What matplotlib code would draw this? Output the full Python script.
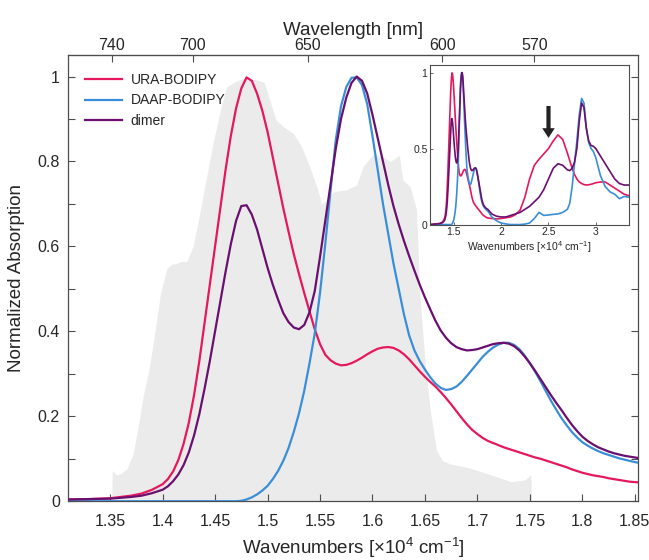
import matplotlib
matplotlib.use("Agg")
import matplotlib.pyplot as plt
import numpy as np

plt.rcParams['font.family'] = ['Liberation Sans', 'DejaVu Sans']
plt.rcParams['mathtext.fontset'] = 'custom'
plt.rcParams['mathtext.rm'] = 'Liberation Sans'
plt.rcParams['mathtext.it'] = 'Liberation Sans'
plt.rcParams['mathtext.sf'] = 'Liberation Sans'

# ---------------- data (wavenumber in 1e4 cm^-1, normalized absorption) -------------
# sampling positions (wavenumber) shared by the three spectra
wn_low = [1.25, 1.28, 1.31, 1.33, 1.35, 1.37, 1.38, 1.39]
wn_mid = list(np.round(np.arange(1.400, 1.8601, 0.005), 3))          # 93 positions
wn_high = [1.90, 1.95, 2.00, 2.05, 2.10, 2.15, 2.20, 2.25, 2.30, 2.35, 2.40, 2.45, 2.50,
           2.55, 2.60, 2.65, 2.70, 2.725, 2.75, 2.775, 2.80, 2.825, 2.85, 2.875, 2.90,
           2.925, 2.95, 2.975, 3.00, 3.05, 3.10, 3.15, 3.20, 3.25, 3.30, 3.35]
wavenumber = wn_low + wn_mid + wn_high

ura = [0.000, 0.002, 0.004, 0.005, 0.007, 0.013, 0.018, 0.027,
       # 1.400 - 1.500
       0.04, 0.052, 0.07, 0.097, 0.135, 0.185, 0.25, 0.33, 0.42, 0.51, 0.60,
       0.69, 0.78, 0.86, 0.925, 0.972, 0.998, 0.99, 0.96, 0.92, 0.87,
       # 1.505 - 1.600
       0.81, 0.75, 0.69, 0.635, 0.582, 0.535, 0.49, 0.447, 0.405, 0.37,
       0.345, 0.332, 0.324, 0.32, 0.321, 0.325, 0.331, 0.338, 0.346, 0.353,
       # 1.605 - 1.700
       0.359, 0.362, 0.363, 0.361, 0.355, 0.346, 0.334, 0.32, 0.306, 0.293,
       0.281, 0.27, 0.257, 0.243, 0.228, 0.212, 0.196, 0.181, 0.168, 0.158,
       # 1.705 - 1.800
       0.149, 0.142, 0.137, 0.132, 0.127, 0.123, 0.119, 0.115, 0.111, 0.107,
       0.103, 0.100, 0.096, 0.092, 0.088, 0.084, 0.080, 0.075, 0.071, 0.067,
       # 1.805 - 1.860
       0.064, 0.061, 0.059, 0.057, 0.054, 0.052, 0.050, 0.048, 0.046, 0.045, 0.044, 0.043,
       # 1.90 - 3.35
       0.04, 0.037, 0.04, 0.045, 0.05, 0.065, 0.095, 0.18, 0.30, 0.39, 0.43, 0.465, 0.50,
       0.55, 0.59, 0.56, 0.47, 0.42, 0.37, 0.33, 0.30, 0.28, 0.27, 0.263, 0.26,
       0.262, 0.265, 0.27, 0.275, 0.28, 0.28, 0.26, 0.24, 0.22, 0.20, 0.19]

daap = [0.0, 0.0, 0.0, 0.0, 0.0, 0.0, 0.0, 0.0,
        # 1.400 - 1.500
        0.0, 0.0, 0.0, 0.0, 0.0, 0.0, 0.0, 0.0, 0.0, 0.0, 0.0,
        0.0, 0.0, 0.0, 0.0, 0.001, 0.004, 0.009, 0.016, 0.025, 0.036,
        # 1.505 - 1.600
        0.052, 0.071, 0.095, 0.125, 0.163, 0.207, 0.26, 0.325, 0.395, 0.49,
        0.605, 0.73, 0.85, 0.93, 0.975, 0.997, 0.998, 0.98, 0.935, 0.86,
        # 1.605 - 1.700
        0.78, 0.70, 0.63, 0.56, 0.50, 0.44, 0.39, 0.355, 0.33, 0.31,
        0.292, 0.277, 0.267, 0.262, 0.264, 0.27, 0.281, 0.295, 0.31, 0.325,
        # 1.705 - 1.800
        0.34, 0.352, 0.362, 0.369, 0.373, 0.373, 0.368, 0.358, 0.343, 0.325,
        0.305, 0.283, 0.26, 0.237, 0.216, 0.196, 0.179, 0.163, 0.15, 0.139,
        # 1.805 - 1.860
        0.131, 0.124, 0.118, 0.113, 0.109, 0.105, 0.101, 0.098, 0.095, 0.092, 0.09, 0.088,
        # 1.90 - 3.35
        0.05, 0.025, 0.01, 0.004, 0.0, 0.0, 0.0, 0.003, 0.01, 0.04, 0.08, 0.06, 0.063,
        0.067, 0.07, 0.08, 0.10, 0.14, 0.25, 0.40, 0.55, 0.72, 0.83, 0.80, 0.64,
        0.54, 0.50, 0.48, 0.44, 0.32, 0.25, 0.215, 0.20, 0.17, 0.185, 0.18]

dimer = [0.000, 0.002, 0.004, 0.005, 0.006, 0.010, 0.013, 0.019,
         # 1.400 - 1.500
         0.027, 0.035, 0.047, 0.063, 0.085, 0.115, 0.155, 0.205, 0.265, 0.33, 0.40,
         0.47, 0.54, 0.605, 0.66, 0.695, 0.697, 0.675, 0.64, 0.595, 0.55,
         # 1.505 - 1.600
         0.51, 0.475, 0.443, 0.422, 0.409, 0.405, 0.415, 0.445, 0.495, 0.575,
         0.66, 0.745, 0.83, 0.90, 0.95, 0.985, 1.0, 0.99, 0.96, 0.91,
         # 1.605 - 1.700
         0.855, 0.80, 0.745, 0.695, 0.652, 0.613, 0.577, 0.543, 0.51, 0.48,
         0.452, 0.425, 0.402, 0.385, 0.372, 0.363, 0.358, 0.355, 0.356, 0.358,
         # 1.705 - 1.800
         0.362, 0.366, 0.37, 0.372, 0.373, 0.371, 0.365, 0.355, 0.341, 0.325,
         0.307, 0.288, 0.269, 0.25, 0.232, 0.215, 0.197, 0.18, 0.165, 0.152,
         # 1.805 - 1.860
         0.142, 0.134, 0.127, 0.122, 0.117, 0.113, 0.11, 0.107, 0.105, 0.103, 0.101, 0.099,
         # 1.90 - 3.35
         0.07, 0.055, 0.05, 0.05, 0.06, 0.07, 0.08, 0.10, 0.12, 0.15, 0.18, 0.23, 0.30,
         0.37, 0.40, 0.39, 0.36, 0.355, 0.37, 0.41, 0.50, 0.68, 0.80, 0.77, 0.63,
         0.55, 0.52, 0.515, 0.50, 0.45, 0.40, 0.35, 0.30, 0.27, 0.26, 0.26]

laser_x = [1.3515, 1.352, 1.356, 1.360, 1.366, 1.372, 1.377, 1.382, 1.387, 1.391, 1.398, 1.404,
           1.409, 1.4135, 1.418, 1.423, 1.429, 1.434, 1.439, 1.448, 1.455, 1.461, 1.4706, 1.48,
           1.493, 1.497, 1.502, 1.508, 1.515, 1.5245, 1.5325, 1.540, 1.547, 1.5516, 1.556, 1.563,
           1.575, 1.585, 1.591, 1.600, 1.610, 1.617, 1.623, 1.6255, 1.629, 1.636, 1.642, 1.645,
           1.650, 1.655, 1.661, 1.667, 1.674, 1.693, 1.713, 1.732, 1.745, 1.751, 1.7515]
laser_y = [0.0, 0.072, 0.062, 0.065, 0.076, 0.112, 0.18, 0.253, 0.31, 0.371, 0.489, 0.548,
           0.558, 0.56, 0.565, 0.564, 0.60, 0.66, 0.725, 0.843, 0.92, 0.976, 0.99, 0.997,
           0.99, 0.985, 0.945, 0.898, 0.882, 0.866, 0.835, 0.788, 0.74, 0.70, 0.709, 0.729,
           0.733, 0.745, 0.788, 0.815, 0.811, 0.80, 0.81, 0.815, 0.756, 0.74, 0.686, 0.489,
           0.332, 0.214, 0.12, 0.095, 0.088, 0.078, 0.062, 0.046, 0.05, 0.062, 0.0]

series_names = ['URA-BODIPY', 'DAAP-BODIPY', 'dimer']
colors = ['#e6185c', '#3a8ed8', '#6a0f70']

x_ticks = [1.35, 1.4, 1.45, 1.5, 1.55, 1.6, 1.65, 1.7, 1.75, 1.8, 1.85]
x_ticklabels = ['1.35', '1.4', '1.45', '1.5', '1.55', '1.6', '1.65', '1.7', '1.75', '1.8', '1.85']
y_ticks = [0, 0.1, 0.2, 0.3, 0.4, 0.5, 0.6, 0.7, 0.8, 0.9, 1.0]
y_ticklabels = ['0', '', '0.2', '', '0.4', '', '0.6', '', '0.8', '', '1']
wl_ticks = [740, 700, 650, 600, 570]
inset_xticks = [1.5, 2, 2.5, 3]
inset_xticklabels = ['1.5', '2', '2.5', '3']
inset_yticks = [0, 0.5, 1]
inset_yticklabels = ['0', '0.5', '1']

# ---------------- figure ---------------------------------------------------------------
fig = plt.figure(figsize=(6.49, 5.6), dpi=100)
ax = fig.add_axes([0.105, 0.105, 0.878, 0.797])

spine_col = '#4d4d4d'
txt_col = '#262626'

ax.fill_between(laser_x, laser_y, 0, color='#ebebeb', lw=0, zorder=1)
for ys, c, n in zip([ura, daap, dimer], colors, series_names):
    ax.plot(wavenumber, ys, color=c, lw=1.6, label=n, zorder=3)

ax.set_xlim(1.31, 1.853)
ax.set_ylim(0, 1.051)
ax.set_xticks(x_ticks)
ax.set_xticklabels(x_ticklabels)
ax.set_yticks(y_ticks)
ax.set_yticklabels(y_ticklabels)
ax.tick_params(axis='both', direction='in', length=5, width=0.8, color=spine_col,
               labelsize=11.5, labelcolor=txt_col, right=True, top=False)
ax.tick_params(axis='x', pad=9)
ax.tick_params(axis='y', pad=6)
for s in ax.spines.values():
    s.set_color(spine_col)
    s.set_linewidth(0.9)

ax.set_xlabel('Wavenumbers [×10$^{4}$ cm$^{-1}$]', fontsize=13.5, color=txt_col, labelpad=5)
ax.set_ylabel('Normalized Absorption', fontsize=13.5, color=txt_col, labelpad=9)

sec = ax.secondary_xaxis('top', functions=(lambda v: 1000.0 / np.clip(v, 1e-6, None),
                                           lambda l: 1000.0 / np.clip(l, 1e-6, None)))
sec.set_xticks(wl_ticks)
sec.set_xticklabels([str(w) for w in wl_ticks])
sec.tick_params(direction='in', length=5, width=0.8, color=spine_col, labelsize=11.5,
                labelcolor=txt_col, pad=1.5)
sec.spines['top'].set_color(spine_col)
sec.set_xlabel('Wavelength [nm]', fontsize=13.5, color=txt_col, labelpad=2)

leg = ax.legend(loc='upper left', bbox_to_anchor=(0.005, 0.99), frameon=False, fontsize=10,
                handlelength=2.7, handletextpad=0.6, labelspacing=0.45, borderaxespad=0.6)
for t in leg.get_texts():
    t.set_color(txt_col)

# ---------------- inset -------------------------------------------------------------------
ins = fig.add_axes([0.663, 0.599, 0.306, 0.285])
ins.set_facecolor('white')
for ys, c in zip([ura, daap, dimer], colors):
    ins.plot(wavenumber, ys, color=c, lw=1.2)
ins.set_xlim(1.25, 3.35)
ins.set_ylim(0, 1.05)
ins.set_xticks(inset_xticks)
ins.set_xticklabels(inset_xticklabels)
ins.set_yticks(inset_yticks)
ins.set_yticklabels(inset_yticklabels)
ins.tick_params(axis='both', direction='in', length=2.5, width=0.6, color=spine_col,
                labelsize=7.5, labelcolor=txt_col, pad=2)
for s in ins.spines.values():
    s.set_color(spine_col)
    s.set_linewidth(0.8)
ins.set_xlabel('Wavenumbers [×10$^{4}$ cm$^{-1}$]', fontsize=7.5, color=txt_col, labelpad=1)
ins.annotate('', xy=(2.5, 0.57), xytext=(2.5, 0.78),
             arrowprops=dict(facecolor='#222222', edgecolor='none', width=3.0,
                             headwidth=9, headlength=7))

fig.savefig('out.png', dpi=100)
